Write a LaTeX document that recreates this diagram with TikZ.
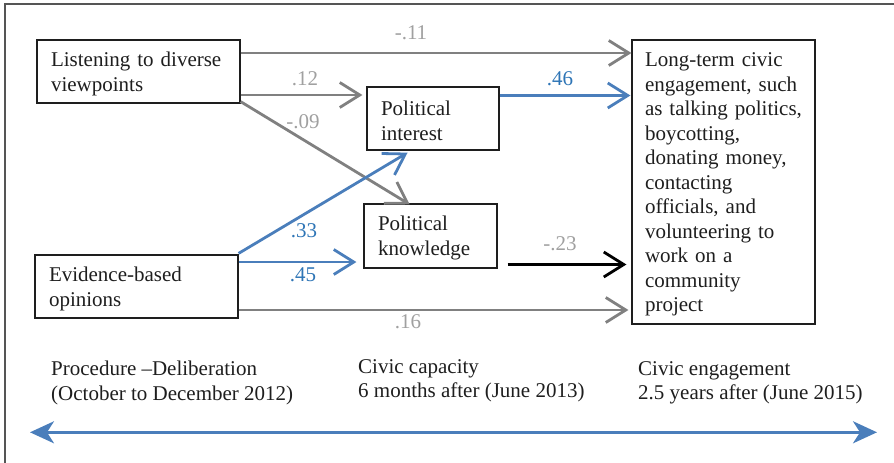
\documentclass[tikz,border=0pt]{standalone}
\usepackage{fontspec}
\setmainfont{Liberation Serif}
\usetikzlibrary{arrows.meta,calc}
\definecolor{arrgray}{HTML}{808080}
\definecolor{labgray}{HTML}{A0A0A0}
\definecolor{arrblue}{HTML}{4A7EBB}
\definecolor{labblue}{HTML}{2E75B6}
\definecolor{framegray}{HTML}{555555}
\definecolor{txt}{HTML}{1E1E1E}
\begin{document}
\begin{tikzpicture}[x=1pt,y=-1pt,
  box/.style={draw=txt, line width=1.2pt, align=left, inner xsep=14pt, inner ysep=0pt,
    font=\fontsize{21}{24.5}\selectfont, text=txt,
    execute at begin node={\rule{0pt}{19pt}}},
  conn/.style={line width=2.8pt, -{Straight Barb[length=20pt,width=25pt]}},
  grayconn/.style={conn, draw=arrgray},
  blueconn/.style={conn, draw=arrblue},
  blackconn/.style={conn, draw=black},
  lab/.style={font=\fontsize{21}{24}\selectfont, inner sep=0pt},
  glab/.style={lab, text=labgray},
  blab/.style={lab, text=labblue},
  period/.style={align=left, anchor=north west, inner sep=0pt,
    font=\fontsize{21}{24.5}\selectfont, text=txt},
  timeline/.style={draw=arrblue, line width=2.6pt,
    {Stealth[length=24pt,width=22pt,inset=7pt]}-{Stealth[length=24pt,width=22pt,inset=7pt]}}
]
\useasboundingbox (0,0) rectangle (894,463);
% frame
\coordinate (fb) at (5,463);
\coordinate (ftl) at (5,4);
\coordinate (ftr) at (894,4);
\draw[framegray, line width=1.3pt] (fb) -- (ftl) -- (ftr);

% boxes
\node[box, text width=175pt, minimum height=63pt] (L) at (138.5,71.5)
  {Listening to diverse\\viewpoints};
\node[box, text width=104pt, minimum height=63pt] (PI) at (433,118.5)
  {Political\\interest};
\node[box, text width=105pt, minimum height=64pt] (PK) at (430.5,236)
  {Political\\knowledge};
\node[box, text width=175pt, minimum height=63pt] (E) at (136.5,286.5)
  {Evidence-based\\opinions};
\node[box, text width=157pt, inner xsep=13pt, minimum height=284pt] (C) at (723.5,182)
  {Long-term civic\\engagement, such\\as talking politics,\\boycotting,\\donating money,\\contacting\\officials, and\\volunteering to\\work on a\\community\\project};

% connectors
\draw[grayconn] (L.east |- 0,53) -- (C.west |- 0,53);
\draw[grayconn, shorten >=4pt] (L.east |- 0,95) -- (PI.west |- 0,95);
\draw[grayconn, shorten >=-2pt] ($(L.south east)+(0,-2)$) -- (PK.north -| 408,0);
\draw[blueconn, shorten >=4pt] ($(E.north east)+(0,-1)$) -- (PI.south -| 411,0);
\draw[blueconn, shorten >=7pt] (E.east |- 0,262) -- (PK.west |- 0,262);
\draw[grayconn, shorten >=3pt] (E.east |- 0,310) -- (C.west |- 0,310);
\draw[blueconn, shorten >=1pt] (PI.east |- 0,95.5) -- (C.west |- 0,95.5);
\draw[blackconn, shorten <=10pt, shorten >=5pt] (PK.east |- 0,264.5) -- (C.west |- 0,264.5);

% labels
\node[glab] (l11) at (411,32.5) {-.11};
\node[glab] (l12) at (305,79) {.12};
\node[glab] (l09) at (303,122) {-.09};
\node[blab] (l33) at (304,231) {.33};
\node[blab] (l45) at (303,275) {.45};
\node[glab] (l16) at (408,322) {.16};
\node[blab] (l46) at (560,79) {.46};
\node[glab] (l23) at (560,244) {-.23};

% periods
\node[period] (p1) at (51,361) {Procedure –Deliberation\\(October to December 2012)};
\node[period] (p2) at (358,359) {Civic capacity\\6 months after (June 2013)};
\node[period] (p3) at (638,361) {Civic engagement\\2.5 years after (June 2015)};

% timeline
\coordinate (tl) at (30,432.3);
\coordinate (tr) at (877,432.3);
\draw[timeline] (tl) -- (tr);
\end{tikzpicture}
\end{document}
